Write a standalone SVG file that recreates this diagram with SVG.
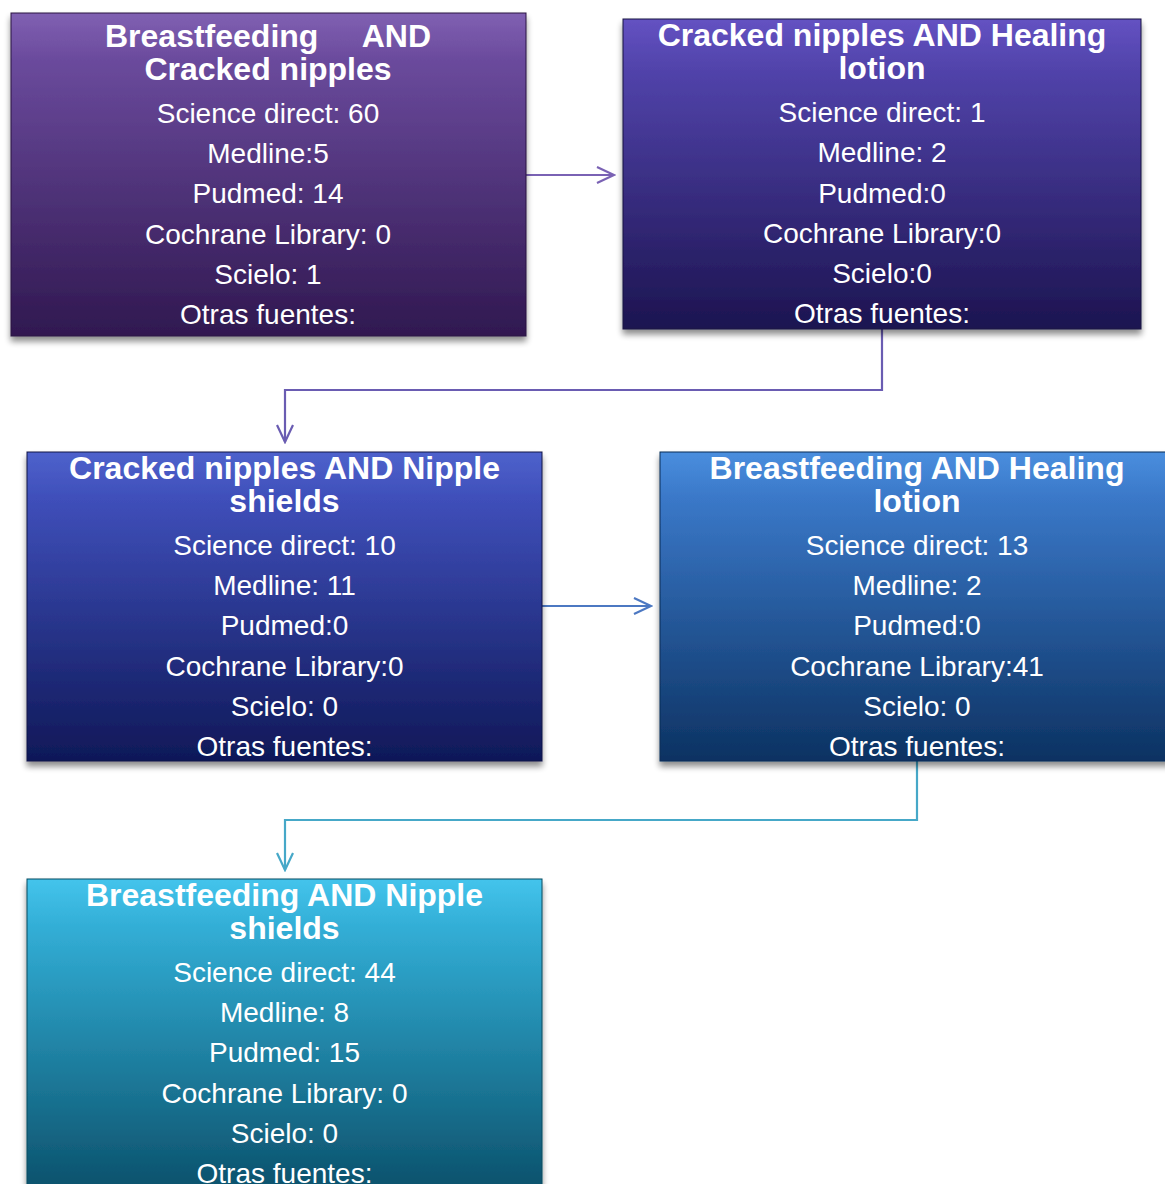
<svg xmlns="http://www.w3.org/2000/svg" width="1165" height="1184" viewBox="0 0 1165 1184">
<style>
.t{font-family:"Liberation Sans",Arial,sans-serif;font-weight:bold;font-size:32px;fill:#fff;text-anchor:middle}
.b{font-family:"Liberation Sans",Arial,sans-serif;font-size:28px;fill:#fff;text-anchor:middle}
.box{filter:url(#sh)}
.c{fill:none;stroke-width:2.2}
</style>
<defs>
<filter id="sh" x="-5%" y="-5%" width="110%" height="115%">
<feGaussianBlur in="SourceAlpha" stdDeviation="3"/>
<feOffset dx="0" dy="5"/>
<feComponentTransfer><feFuncA type="linear" slope="0.45"/></feComponentTransfer>
<feMerge><feMergeNode/><feMergeNode in="SourceGraphic"/></feMerge>
</filter>
<linearGradient id="g1" x1="0" y1="0" x2="0" y2="1"><stop offset="0" stop-color="#8060b2"/><stop offset="0.15" stop-color="#6a4a9c"/><stop offset="1" stop-color="#301850"/></linearGradient>
<linearGradient id="g2" x1="0" y1="0" x2="0" y2="1"><stop offset="0" stop-color="#6452c2"/><stop offset="0.15" stop-color="#5244ac"/><stop offset="1" stop-color="#1c1450"/></linearGradient>
<linearGradient id="g3" x1="0" y1="0" x2="0" y2="1"><stop offset="0" stop-color="#4e62cc"/><stop offset="0.15" stop-color="#3f4fba"/><stop offset="1" stop-color="#0f1858"/></linearGradient>
<linearGradient id="g4" x1="0" y1="0" x2="0" y2="1"><stop offset="0" stop-color="#4a8ede"/><stop offset="0.15" stop-color="#3a78c8"/><stop offset="1" stop-color="#0c3262"/></linearGradient>
<linearGradient id="g5" x1="0" y1="0" x2="0" y2="1"><stop offset="0" stop-color="#44c4ec"/><stop offset="0.15" stop-color="#32aed6"/><stop offset="1" stop-color="#0a4e68"/></linearGradient>
<marker id="a1" markerWidth="20" markerHeight="20" refX="18" refY="10" orient="auto" markerUnits="userSpaceOnUse"><path d="M1,2 L18,10 L1,18" fill="none" stroke="#7a62b4" stroke-width="2.2"/></marker>
<marker id="a2" markerWidth="20" markerHeight="20" refX="18" refY="10" orient="auto" markerUnits="userSpaceOnUse"><path d="M1,2 L18,10 L1,18" fill="none" stroke="#6a5cb2" stroke-width="2.2"/></marker>
<marker id="a3" markerWidth="20" markerHeight="20" refX="18" refY="10" orient="auto" markerUnits="userSpaceOnUse"><path d="M1,2 L18,10 L1,18" fill="none" stroke="#4c78c2" stroke-width="2.2"/></marker>
<marker id="a4" markerWidth="20" markerHeight="20" refX="18" refY="10" orient="auto" markerUnits="userSpaceOnUse"><path d="M1,2 L18,10 L1,18" fill="none" stroke="#46a8c8" stroke-width="2.2"/></marker>
</defs>
<rect width="1165" height="1184" fill="#fff"/>
<g id="connectors">
<path class="c" stroke="#7a62b4" d="M526,175 H614" marker-end="url(#a1)"/>
<path class="c" stroke="#6a5cb2" d="M882,329 V390 H285 V442" marker-end="url(#a2)"/>
<path class="c" stroke="#4c78c2" d="M542,606 H651" marker-end="url(#a3)"/>
<path class="c" stroke="#46a8c8" d="M917,761 V820 H285 V870" marker-end="url(#a4)"/>
</g>
<g id="node1">
<rect class="box" x="11" y="13" width="515" height="323" fill="url(#g1)" stroke="#2a1440" stroke-width="1"/>
<text class="t" x="268" y="47" xml:space="preserve">Breastfeeding     AND</text>
<text class="t" x="268" y="80">Cracked nipples</text>
<text class="b" x="268" y="123">Science direct: 60</text>
<text class="b" x="268" y="163">Medline:5</text>
<text class="b" x="268" y="203">Pudmed: 14</text>
<text class="b" x="268" y="244">Cochrane Library: 0</text>
<text class="b" x="268" y="284">Scielo: 1</text>
<text class="b" x="268" y="324">Otras fuentes:</text>
</g>
<g id="node2">
<rect class="box" x="623" y="19" width="518" height="310" fill="url(#g2)" stroke="#1a1240" stroke-width="1"/>
<text class="t" x="882" y="46">Cracked nipples AND Healing</text>
<text class="t" x="882" y="79">lotion</text>
<text class="b" x="882" y="122">Science direct: 1</text>
<text class="b" x="882" y="162">Medline: 2</text>
<text class="b" x="882" y="203">Pudmed:0</text>
<text class="b" x="882" y="243">Cochrane Library:0</text>
<text class="b" x="882" y="283">Scielo:0</text>
<text class="b" x="882" y="323">Otras fuentes:</text>
</g>
<g id="node3">
<rect class="box" x="27" y="452" width="515" height="309" fill="url(#g3)" stroke="#0e1648" stroke-width="1"/>
<text class="t" x="284.5" y="479">Cracked nipples AND Nipple</text>
<text class="t" x="284.5" y="512">shields</text>
<text class="b" x="284.5" y="555">Science direct: 10</text>
<text class="b" x="284.5" y="595">Medline: 11</text>
<text class="b" x="284.5" y="635">Pudmed:0</text>
<text class="b" x="284.5" y="676">Cochrane Library:0</text>
<text class="b" x="284.5" y="716">Scielo: 0</text>
<text class="b" x="284.5" y="756">Otras fuentes:</text>
</g>
<g id="node4">
<rect class="box" x="660" y="452" width="515" height="309" fill="url(#g4)" stroke="#0a2c56" stroke-width="1"/>
<text class="t" x="917" y="479">Breastfeeding AND Healing</text>
<text class="t" x="917" y="512">lotion</text>
<text class="b" x="917" y="555">Science direct: 13</text>
<text class="b" x="917" y="595">Medline: 2</text>
<text class="b" x="917" y="635">Pudmed:0</text>
<text class="b" x="917" y="676">Cochrane Library:41</text>
<text class="b" x="917" y="716">Scielo: 0</text>
<text class="b" x="917" y="756">Otras fuentes:</text>
</g>
<g id="node5">
<rect class="box" x="27" y="879" width="515" height="320" fill="url(#g5)" stroke="#0a4a60" stroke-width="1"/>
<text class="t" x="284.5" y="906">Breastfeeding AND Nipple</text>
<text class="t" x="284.5" y="939">shields</text>
<text class="b" x="284.5" y="982">Science direct: 44</text>
<text class="b" x="284.5" y="1022">Medline: 8</text>
<text class="b" x="284.5" y="1062">Pudmed: 15</text>
<text class="b" x="284.5" y="1103">Cochrane Library: 0</text>
<text class="b" x="284.5" y="1143">Scielo: 0</text>
<text class="b" x="284.5" y="1183">Otras fuentes:</text>
</g>
</svg>
